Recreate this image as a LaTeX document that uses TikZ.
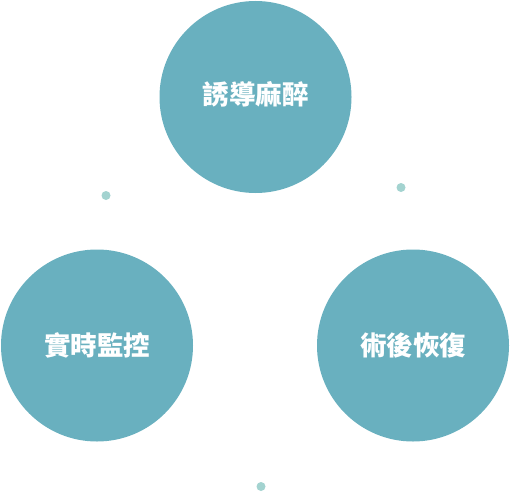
\documentclass[tikz,border=0pt]{standalone}
\usepackage{fontspec}
\newfontfamily\cjk{Noto Sans CJK TC}
\definecolor{circfill}{HTML}{69B0BF}
\definecolor{dotfill}{HTML}{A3D3D0}
\tikzset{
  bigcirc/.style={circle, fill=circfill, minimum size=192pt, inner sep=0pt, text=white, font=\cjk\bfseries\fontsize{26.5pt}{30pt}\selectfont},
  smalldot/.style={circle, fill=dotfill, minimum size=9pt, inner sep=0pt}
}
\begin{document}
\begin{tikzpicture}[x=1pt,y=-1pt]
\useasboundingbox (0,0) rectangle (510,503);
\node[bigcirc] (c1) at (255.5,97) {\raisebox{3pt}[\height][\depth]{誘導麻醉}};
\node[bigcirc] (c2) at (97,345.5) {實時監控};
\node[bigcirc] (c3) at (413,345.5) {術後恢復};
\node[smalldot] (d1) at (106,195.5) {};
\node[smalldot] (d2) at (401,187.5) {};
\node[smalldot] (d3) at (261,486.5) {};
\end{tikzpicture}
\end{document}
